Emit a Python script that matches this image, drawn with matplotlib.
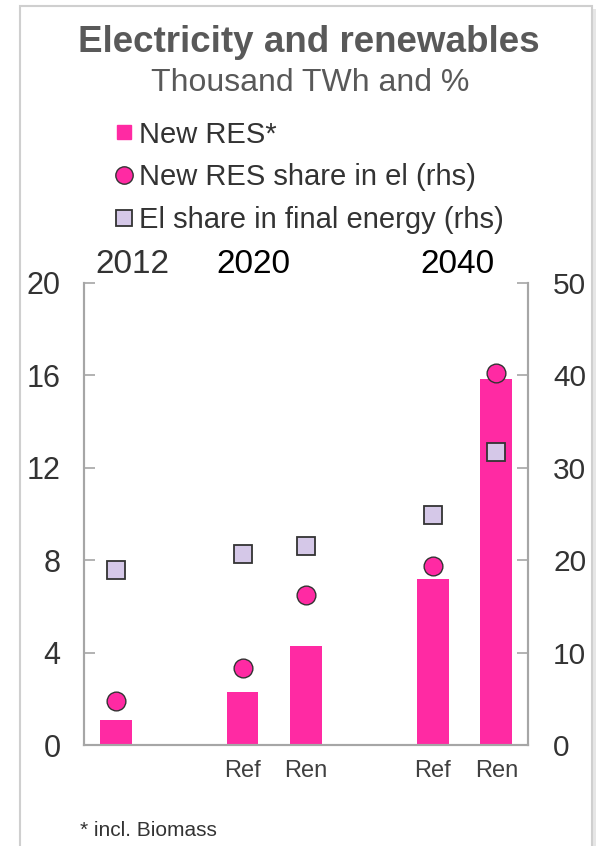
import numpy as np
import matplotlib.pyplot as plt
from matplotlib.lines import Line2D
from matplotlib.patches import Rectangle
import matplotlib.transforms as mtransforms

plt.rcParams['font.family'] = ['Liberation Sans', 'DejaVu Sans']

#--data--#
slots = ['', '', 'Ref', 'Ren', '', 'Ref', 'Ren']
bar_pos = [0, 2, 3, 5, 6]
new_res = [1.08, 2.29, 4.29, 7.17, 15.84]          # thousand TWh (lhs)
res_share_el = [4.8, 8.3, 16.2, 19.4, 40.3]        # % (rhs)
el_share_final = [18.9, 20.7, 21.5, 24.9, 31.7]    # % (rhs)
years = ['2012', '2020', '2040']
year_pos = [0.27, 2.17, 5.39]

PINK = '#FF2AA3'
LAV = '#D5C8E8'
EDGE = '#333333'
GREY = '#A6A6A6'

fig = plt.figure(figsize=(6, 8.46), dpi=100)

#--frame--#
fig.patches.append(Rectangle((23 / 600, -0.05), 573 / 600, 1.05 - 9 / 846, transform=fig.transFigure,
                             facecolor='#E6E6E6', edgecolor='none', zorder=-3))
fig.patches.append(Rectangle((20 / 600, -0.05), 572 / 600, 1.05 - 6 / 846, transform=fig.transFigure,
                             facecolor='white', edgecolor='#CFCFCF', linewidth=1.5, zorder=-2))

ax = fig.add_axes([84 / 600, 101 / 846, 444 / 600, 462 / 846])
ax2 = ax.twinx()

ax.bar(bar_pos, new_res, width=0.5, color=PINK, zorder=2)
ax2.plot(bar_pos, el_share_final, linestyle='none', marker='s', markersize=13.5,
         markerfacecolor=LAV, markeredgecolor=EDGE, markeredgewidth=1.3, zorder=3)
ax2.plot(bar_pos, res_share_el, linestyle='none', marker='o', markersize=13.5,
         markerfacecolor=PINK, markeredgecolor=EDGE, markeredgewidth=1.0, zorder=3)

ax.set_xlim(-0.5, 6.5)
ax.set_ylim(0, 20)
ax2.set_ylim(0, 50)
ax.set_yticks(np.arange(0, 21, 4))
ax2.set_yticks(np.arange(0, 51, 10))
ax.set_xticks(range(len(slots)))
ax.set_xticklabels(slots, fontsize=17, color='#404040')
ax.tick_params(axis='x', length=0, pad=11)
ax.tick_params(axis='y', direction='in', length=8, width=1.2, color=GREY,
               labelsize=22, labelcolor='#333333', pad=17)
ax2.tick_params(axis='y', direction='in', length=8, width=1.2, color=GREY,
                labelsize=21.5, labelcolor='#333333', pad=18)

for a in (ax, ax2):
    a.spines['top'].set_visible(False)
    for s in ('left', 'right', 'bottom'):
        a.spines[s].set_color(GREY)
        a.spines[s].set_linewidth(1.5)
ax.set_zorder(ax2.get_zorder() - 1)
ax2.patch.set_visible(False)

#--year labels--#
trans = mtransforms.blended_transform_factory(ax.transData, ax.transAxes)
year_colors = ['#333333', 'black', 'black']
for yr, xp, c in zip(years, year_pos, year_colors):
    ax.text(xp, 1.022, yr, transform=trans, ha='center', va='baseline', fontsize=24, color=c)

#--titles--#
fig.text(0.515, 1 - 42 / 846, 'Electricity and renewables', ha='center', va='center',
         fontsize=26.5, fontweight='bold', color='#595959')
fig.text(0.517, 1 - 83 / 846, 'Thousand TWh and %', ha='center', va='center',
         fontsize=23, color='#595959')

#--legend--#
handles = [
    Line2D([], [], linestyle='none', marker='s', markersize=10.5, markerfacecolor=PINK, markeredgecolor=PINK),
    Line2D([], [], linestyle='none', marker='o', markersize=12.5, markerfacecolor=PINK, markeredgecolor=EDGE),
    Line2D([], [], linestyle='none', marker='s', markersize=12, markerfacecolor=LAV, markeredgecolor=EDGE, markeredgewidth=1.3),
]
labels = ['New RES*', 'New RES share in el (rhs)', 'El share in final energy (rhs)']
leg = fig.legend(handles, labels, loc='upper left', bbox_to_anchor=(101 / 600, 1 - 109 / 846),
                 frameon=False, fontsize=21, handlelength=0.75, handletextpad=0.15,
                 labelspacing=0.5, borderaxespad=0)
for t in leg.get_texts():
    t.set_color('#333333')

#--footnote--#
fig.text(80 / 600, 1 - 830 / 846, '* incl. Biomass', ha='left', va='center', fontsize=15, color='#333333')

fig.savefig('out.png', dpi=100)
